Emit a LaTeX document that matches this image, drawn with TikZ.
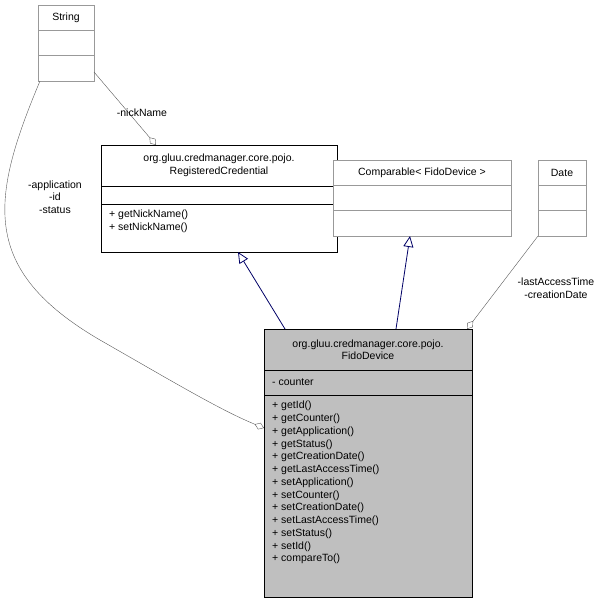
\documentclass[tikz,border=0pt]{standalone}
\usepackage{fontspec}
\setmainfont{Liberation Sans}
\usetikzlibrary{arrows.meta}
\begin{document}
\begin{tikzpicture}[x=1pt,y=-1pt,font=\fontsize{10.5}{12.5}\selectfont,
  gbox/.style={draw=black!40,fill=white},
  bbox/.style={draw=black,fill=white},
  txt/.style={inner sep=0pt,align=center},
  agg/.style={draw=black!65,-{Diamond[open,length=10pt,width=7pt]}},
  inh/.style={draw=blue!40!black,thick,-{Triangle[open,length=11pt,width=10pt]}}]
\useasboundingbox (0,0) rectangle (611,603);
% String
\draw[gbox] (38,5) rectangle (94,81);
\draw[black!40] (38,30) -- (94,30) (38,55) -- (94,55);
\node[txt] (strt) at (66,17.5) {String};
\coordinate (str) at (66,43);
% RegisteredCredential
\draw[bbox] (101,145) rectangle (337,252);
\draw (101,186) -- (337,186) (101,204) -- (337,204);
\node[txt] (rct) at (219,165.5) {org.gluu.credmanager.core.pojo.\\RegisteredCredential};
\node[txt,align=left,anchor=north west] (rcm) at (109,210) {+ getNickName()\\+ setNickName()};
% Comparable
\draw[gbox] (333,160) rectangle (511,236);
\draw[black!40] (333,185) -- (511,185) (333,210) -- (511,210);
\node[txt] (cmp) at (422,172.5) {Comparable< FidoDevice >};
% Date
\draw[gbox] (538,160) rectangle (586,236);
\draw[black!40] (538,185) -- (586,185) (538,210) -- (586,210);
\node[txt] (dt) at (562,172.5) {Date};
% FidoDevice
\draw[draw=black,fill=black!25] (264,329) rectangle (472,597);
\draw (264,370) -- (472,370) (264,395) -- (472,395);
\node[txt] (fdt) at (368,349.5) {org.gluu.credmanager.core.pojo.\\FidoDevice};
\node[txt,anchor=west] (fda) at (272,382.5) {- counter};
\node[txt,align=left,anchor=north west,font=\fontsize{10.5}{12.75}\selectfont] (fdm) at (272,401) {+ getId()\\+ getCounter()\\+ getApplication()\\+ getStatus()\\+ getCreationDate()\\+ getLastAccessTime()\\+ setApplication()\\+ setCounter()\\+ setCreationDate()\\+ setLastAccessTime()\\+ setStatus()\\+ setId()\\+ compareTo()};
% coordinates
\coordinate (s1) at (94,72);
\coordinate (r1) at (156,145);
\coordinate (s2) at (40,81);
\coordinate (f1) at (264,428);
\coordinate (f2) at (285,329);
\coordinate (r2) at (238,252);
\coordinate (f3) at (396,329);
\coordinate (c1) at (410,236);
\coordinate (d1) at (538,236);
\coordinate (f4) at (467,329);
% connectors
\draw[agg] (s1) -- (r1);
\node[txt] (l1) at (142,113) {-nickName};
\draw[agg] (s2) .. controls (-10,200) and (-20,270) .. (100,340) .. controls (170,380) and (220,410) .. (f1);
\node[txt] (l2) at (55,197) {-application\\-id\\-status};
\draw[inh] (f2) -- (r2);
\draw[inh] (f3) -- (c1);
\draw[agg] (d1) -- (f4);
\node[txt] (l3) at (556,288) {-lastAccessTime\\-creationDate};
\end{tikzpicture}
\end{document}
